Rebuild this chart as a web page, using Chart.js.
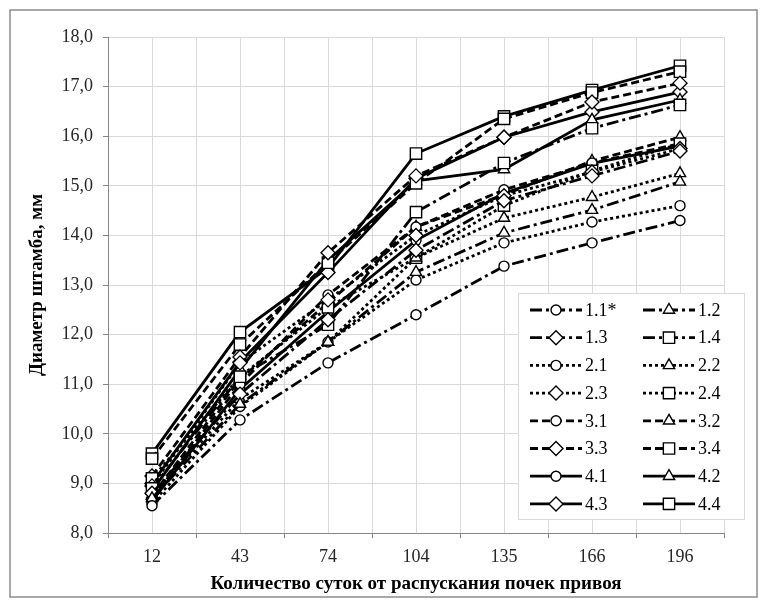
<!DOCTYPE html>
<html>
<head>
<meta charset="utf-8">
<script src="https://cdn.jsdelivr.net/npm/chart.js@4.4.1/dist/chart.umd.min.js"></script>
<style>
body{margin:0;background:#fff;}
</style>
</head>
<body>
<canvas id="diamChart" width="768" height="607"></canvas>
<script>

// days since bud break (x axis categories)
const categories = ["12","43","74","104","135","166","196"];

const seriesNames = ["1.1*","1.2","1.3","1.4","2.1","2.2","2.3","2.4",
                     "3.1","3.2","3.3","3.4","4.1","4.2","4.3","4.4"];

// stem diameter, mm
const s11 = [8.55, 10.28, 11.43, 12.40, 13.38, 13.85, 14.30];
const s12 = [8.70, 10.60, 11.85, 13.26, 14.05, 14.51, 15.08];
const s13 = [8.80, 10.80, 12.30, 13.70, 14.70, 15.20, 15.70];
const s14 = [8.90, 11.15, 12.20, 14.47, 15.46, 16.16, 16.63];
const s21 = [8.60, 10.55, 11.85, 13.10, 13.85, 14.27, 14.60];
const s22 = [8.75, 10.70, 11.85, 13.55, 14.35, 14.77, 15.25];
const s23 = [8.95, 11.43, 12.70, 14.00, 14.80, 15.28, 15.75];
const s24 = [9.10, 11.15, 12.55, 13.55, 14.60, 15.30, 15.85];
const s31 = [8.70, 11.00, 12.80, 14.17, 14.92, 15.46, 15.85];
const s32 = [8.75, 11.10, 12.64, 14.17, 14.82, 15.50, 15.98];
const s33 = [9.15, 11.55, 13.65, 15.20, 15.98, 16.69, 17.07];
const s34 = [9.50, 11.80, 13.45, 15.05, 16.35, 16.88, 17.30];
const s41 = [8.65, 10.90, 12.46, 13.90, 14.85, 15.45, 15.80];
const s42 = [8.85, 11.30, 13.50, 15.10, 15.33, 16.33, 16.73];
const s43 = [9.00, 11.45, 13.25, 15.15, 15.98, 16.49, 16.89];
const s44 = [9.60, 12.05, 13.35, 15.65, 16.40, 16.93, 17.42];

const allSeries = [s11,s12,s13,s14,s21,s22,s23,s24,s31,s32,s33,s34,s41,s42,s43,s44];

const yMin = 8, yMax = 18, yStep = 1;

// line style per group, marker per number inside group
const groupDash = [[12,4,3,4], [3,3], [8,4], []];
const markers = ["circle","triangle","rectRot","rect"];
const markerSize = {circle:5, triangle:6.5, rectRot:7, rect:8};

const datasets = allSeries.map((vals, i) => {
    const style = markers[i % 4];
    return {
        label: seriesNames[i],
        data: vals.map((v, k) => ({x: k, y: v})),
        borderColor: "#000",
        borderWidth: 2.8,
        borderDash: groupDash[Math.floor(i / 4)],
        pointStyle: style,
        pointRadius: markerSize[style],
        pointBackgroundColor: "#fff",
        pointBorderColor: "#000",
        pointBorderWidth: 1.4,
        tension: 0
    };
});

const frame = {
    id: "frame",
    beforeDraw(chart){
        const c = chart.ctx;
        c.save();
        c.fillStyle = "#fff";
        c.fillRect(0, 0, chart.width, chart.height);
        c.strokeStyle = "#8c8c8c";
        c.lineWidth = 1.5;
        c.strokeRect(10, 10, 747, 587);
        c.restore();
    }
};

const insideLegend = {
    id: "insideLegend",
    afterDraw(chart){
        const c = chart.ctx;
        const bx = 518, by = 293, bw = 226, bh = 226;
        c.save();
        c.fillStyle = "#fff";
        c.fillRect(bx, by, bw, bh);
        c.strokeStyle = "#d9d9d9";
        c.lineWidth = 1;
        c.strokeRect(bx + 0.5, by + 0.5, bw, bh);

        chart.data.datasets.forEach((ds, i) => {
            const col = i % 2, row = Math.floor(i / 2);
            const x0 = bx + 12 + col * 113;
            const y = by + 17 + row * 27.7;

            c.strokeStyle = "#000";
            c.lineWidth = ds.borderWidth;
            c.setLineDash(ds.borderDash);
            c.beginPath();
            c.moveTo(x0, y);
            c.lineTo(x0 + 52, y);
            c.stroke();
            c.setLineDash([]);

            c.fillStyle = "#fff";
            c.strokeStyle = "#000";
            c.lineWidth = ds.pointBorderWidth;
            Chart.helpers.drawPoint(c, {
                pointStyle: ds.pointStyle,
                radius: ds.pointRadius,
                rotation: 0,
                borderWidth: ds.pointBorderWidth
            }, x0 + 26, y);

            c.fillStyle = "#000";
            c.font = "18px 'Liberation Serif'";
            c.textBaseline = "middle";
            c.textAlign = "left";
            c.fillText(ds.label, x0 + 55, y + 1);
        });
        c.restore();
    }
};

new Chart(document.getElementById("diamChart"), {

    type: "line",

    data: { datasets: datasets },

    options: {
        responsive: false,
        animation: false,
        events: [],
        layout: { padding: { left: 20, right: 44, top: 37, bottom: 8 } },
        plugins: {
            legend: { display: false },
            tooltip: { enabled: false }
        },
        scales: {
            x: {
                type: "linear",
                min: -0.5,
                max: 6.5,
                afterFit(scale){ scale.height = 66; },
                ticks: {
                    stepSize: 0.5,
                    autoSkip: false,
                    maxRotation: 0,
                    padding: 8,
                    color: "#262626",
                    font: { family: "'Liberation Serif'", size: 18 },
                    callback: v => Number.isInteger(v) ? categories[v] : ""
                },
                grid: {
                    color: "#d9d9d9",
                    tickLength: 5,
                    tickColor: ctx => Number.isInteger(ctx.tick.value) ? "rgba(0,0,0,0)" : "#868686"
                },
                border: { color: "#868686" },
                title: {
                    display: true,
                    text: "Количество суток от распускания почек привоя",
                    color: "#000",
                    font: { family: "'Liberation Serif'", size: 19, weight: "bold" },
                    padding: { top: 2, bottom: 4 }
                }
            },
            y: {
                min: yMin,
                max: yMax,
                afterFit(scale){ scale.width = 88; },
                ticks: {
                    stepSize: yStep,
                    padding: 10,
                    color: "#262626",
                    font: { family: "'Liberation Serif'", size: 18 },
                    callback: v => v.toFixed(1).replace(".", ",")
                },
                grid: {
                    color: "#d9d9d9",
                    tickLength: 5,
                    tickColor: "#868686"
                },
                border: { color: "#868686" },
                title: {
                    display: true,
                    text: "Диаметр штамба, мм",
                    color: "#000",
                    font: { family: "'Liberation Serif'", size: 19, weight: "bold" },
                    padding: { top: 6, bottom: 4 }
                }
            }
        }
    },

    plugins: [frame, insideLegend]

});

</script>
</body>
</html>
